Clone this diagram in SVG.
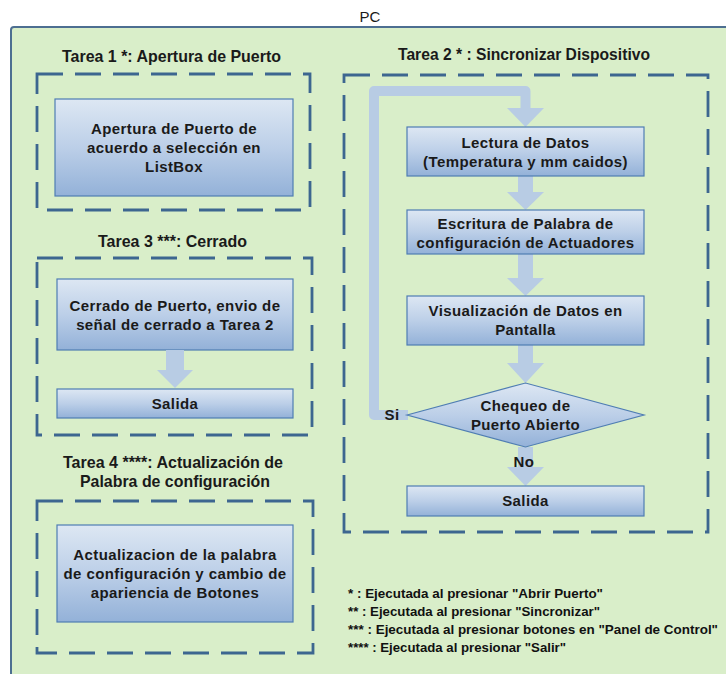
<svg xmlns="http://www.w3.org/2000/svg" width="726" height="674" viewBox="0 0 726 674">
<defs>
<linearGradient id="g" x1="0" y1="0" x2="0" y2="1">
<stop offset="0" stop-color="#dde7f3"/>
<stop offset="0.5" stop-color="#bccfe8"/>
<stop offset="1" stop-color="#93b1d8"/>
</linearGradient>
<style>
.box{fill:url(#g);stroke:#4f7db3;stroke-width:1.2}
.dash{fill:none;stroke:#3d6690;stroke-width:2.8;stroke-dasharray:26 12}
.t{font-family:"Liberation Sans",Arial,sans-serif;font-weight:bold;font-size:15px;fill:#1a1a1a;text-anchor:middle;letter-spacing:0.4px}
.title{font-family:"Liberation Sans",Arial,sans-serif;font-weight:bold;font-size:16.5px;fill:#1a1a1a;text-anchor:middle}
.pc{font-family:"Liberation Sans",Arial,sans-serif;font-size:15px;fill:#1a1a1a;text-anchor:middle}
.leg{font-family:"Liberation Sans",Arial,sans-serif;font-weight:bold;font-size:12.5px;fill:#111111}
.arr{fill:#b8cce4;stroke:none}
.loop{fill:none;stroke:#b8cce4;stroke-width:10;stroke-linejoin:round}
</style>
</defs>
<rect width="726" height="674" fill="#ffffff"/>
<text x="370" y="22" class="pc">PC</text>
<rect x="11" y="27" width="730" height="660" rx="3" fill="#d9eec9" stroke="#4d6f91" stroke-width="2"/>

<g id="tarea1">
<text x="171.5" y="62" class="title" textLength="219" lengthAdjust="spacingAndGlyphs">Tarea 1 *: Apertura de Puerto</text>
<rect x="37" y="74" width="273" height="136" class="dash"/>
<g id="n-apertura">
<rect x="55" y="99" width="238" height="97" class="box"/>
<text class="t" x="174" y="134">Apertura de Puerto de</text>
<text class="t" x="174" y="153">acuerdo a selección en</text>
<text class="t" x="174" y="172">ListBox</text>
</g>
</g>

<g id="tarea3">
<text x="172.5" y="247" class="title" textLength="149" lengthAdjust="spacingAndGlyphs">Tarea 3 ***: Cerrado</text>
<rect x="37" y="258" width="275" height="177" class="dash"/>
<g id="n-cerrado">
<rect x="57" y="279" width="236" height="71" class="box"/>
<text class="t" x="175" y="311">Cerrado de Puerto, envio de</text>
<text class="t" x="175" y="330">señal de cerrado a Tarea 2</text>
</g>
<g id="n-salida1">
<rect x="57" y="389" width="236" height="29" class="box"/>
<text class="t" x="175" y="409">Salida</text>
</g>
</g>

<g id="tarea4">
<text x="173" y="468" class="title" textLength="220" lengthAdjust="spacingAndGlyphs">Tarea 4 ****: Actualización de</text>
<text x="175" y="487" class="title" textLength="190" lengthAdjust="spacingAndGlyphs">Palabra de configuración</text>
<rect x="37" y="501" width="276" height="152" class="dash"/>
<g id="n-actualizacion">
<rect x="57" y="525" width="236" height="97" class="box"/>
<text class="t" x="175" y="560">Actualizacion de la palabra</text>
<text class="t" x="175" y="579">de configuración y cambio de</text>
<text class="t" x="175" y="598">apariencia de Botones</text>
</g>
</g>

<g id="tarea2">
<text x="524" y="60" class="title" textLength="252" lengthAdjust="spacingAndGlyphs">Tarea 2 * : Sincronizar Dispositivo</text>
<rect x="344" y="75" width="364" height="457" class="dash"/>
</g>

<g id="connectors">
<path class="arr" d="M166 350 H184 V370 H193 L175 388 L157 370 H166 Z"/>
<path class="loop" d="M408 415 H374 V91 H525.5 V109"/>
<path class="arr" d="M507 108 H544 L525.5 127 Z"/>
<path class="arr" d="M518 176 H533 V192 H544 L525.5 210 L507 192 H518 Z"/>
<path class="arr" d="M518 254 H533 V278 H544 L525.5 296 L507 278 H518 Z"/>
<path class="arr" d="M518 345 H533 V363 H544 L525.5 383 L507 363 H518 Z"/>
<path class="arr" d="M518 447 H533 V467 H544 L525.5 486 L507 467 H518 Z"/>
<text class="t" x="392" y="420" letter-spacing="0">Si</text>
<text class="t" x="524" y="467" letter-spacing="0">No</text>
</g>

<g id="n-lectura">
<rect x="407" y="127" width="237" height="49" class="box"/>
<text class="t" x="525.5" y="148">Lectura de Datos</text>
<text class="t" x="525.5" y="167">(Temperatura y mm caidos)</text>
</g>
<g id="n-escritura">
<rect x="407" y="210" width="237" height="44" class="box"/>
<text class="t" x="525.5" y="229">Escritura de Palabra de</text>
<text class="t" x="525.5" y="248">configuración de Actuadores</text>
</g>
<g id="n-visualizacion">
<rect x="407" y="296" width="237" height="49" class="box"/>
<text class="t" x="525.5" y="316">Visualización de Datos en</text>
<text class="t" x="525.5" y="335">Pantalla</text>
</g>
<g id="n-chequeo">
<polygon points="407,415 525.5,383 644,415 525.5,447" class="box"/>
<text class="t" x="525.5" y="411">Chequeo de</text>
<text class="t" x="525.5" y="430">Puerto Abierto</text>
</g>
<g id="n-salida2">
<rect x="407" y="486" width="237" height="30" class="box"/>
<text class="t" x="525.5" y="506">Salida</text>
</g>

<g id="legend">
<text class="leg" x="348" y="598" textLength="255" lengthAdjust="spacingAndGlyphs">* : Ejecutada al presionar "Abrir Puerto"</text>
<text class="leg" x="348" y="616" textLength="252" lengthAdjust="spacingAndGlyphs">** : Ejecutada al presionar "Sincronizar"</text>
<text class="leg" x="348" y="634" textLength="370" lengthAdjust="spacingAndGlyphs">*** : Ejecutada al presionar botones en "Panel de Control"</text>
<text class="leg" x="348" y="652" textLength="218" lengthAdjust="spacingAndGlyphs">**** : Ejecutada al presionar "Salir"</text>
</g>
</svg>
